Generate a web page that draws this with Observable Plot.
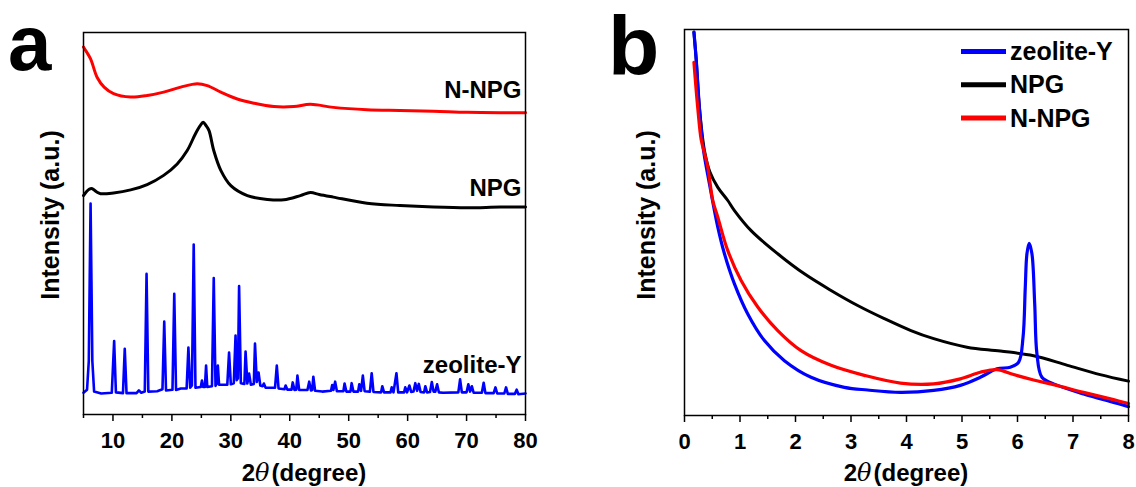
<!DOCTYPE html>
<html><head><meta charset="utf-8">
<script src="https://cdn.jsdelivr.net/npm/d3@7"></script>
<script src="https://cdn.jsdelivr.net/npm/@observablehq/plot@0.6"></script>
<style>
body{margin:0;background:#fff}
#wrap{position:relative;width:1136px;height:487px;overflow:hidden;background:#fff}
#wrap svg{position:absolute;top:0}
</style></head><body><div id="wrap"></div>
<script>
const FONT = "'Liberation Sans', Arial, Helvetica, sans-serif";

// ---------- Panel a : wide-angle XRD (intensity, a.u., curves offset) ----------
const aZeolite = [[5.0,5.7],[5.6,6.5],[5.9,14],[6.05,35],[6.2,55.2],[6.35,35],[6.5,14],[6.8,6.0],
[8,5.5],[9.8,5.7],[10.2,19.2],[10.5,5.8],[11.7,5.6],[12.0,17.2],[12.3,5.6],
[14,5.6],[14.4,6.3],[14.8,5.7],[15.4,6.0],[15.7,36.8],[16.0,6.0],
[17.5,6.1],[18.4,6.6],[18.7,24.3],[19.0,6.3],[20.1,6.5],[20.4,31.6],[20.7,6.4],
[21.5,6.8],[22.5,6.8],[22.8,17.5],[23.1,7.0],[23.4,7.6],[23.7,44.5],[24.0,7.0],
[24.9,7.2],[25.1,8.9],[25.3,7.2],[25.6,7.2],[25.8,12.8],[26.0,7.2],
[26.8,7.4],[27.1,35.7],[27.4,7.5],[27.6,8.0],[27.8,12.8],[28.0,7.8],
[29.4,7.8],[29.7,16.2],[30.0,7.9],[30.5,8.2],[30.8,20.7],[31.0,9.0],[31.2,9.5],[31.4,33.6],[31.7,8.2],
[32.3,8.0],[32.5,16.5],[32.8,8.1],[33.1,10.7],[33.4,7.8],
[33.9,8.0],[34.1,18.6],[34.4,8.5],[34.7,11.0],[35.0,7.6],[35.4,7.4],[35.6,8.1],[35.9,7.0],
[37.5,7.0],[37.8,12.8],[38.1,6.8],[39.1,6.6],[39.3,7.6],[39.6,6.5],
[40.3,6.5],[40.5,8.4],[40.8,6.4],[41.1,6.5],[41.3,10.2],[41.6,6.4],
[43.0,6.4],[43.3,8.6],[43.6,6.3],[43.8,6.4],[44.0,9.9],[44.3,6.2],
[45.5,6.0],[47.0,6.2],[47.2,7.7],[47.4,6.4],[47.7,8.6],[48.0,6.1],
[49.1,6.1],[49.3,8.1],[49.6,6.0],[50.3,6.0],[50.5,8.2],[50.8,6.0],
[51.6,6.0],[51.8,7.9],[52.1,6.2],[52.4,10.2],[52.7,6.1],[53.6,6.0],[53.9,10.8],[54.2,5.9],
[55.5,5.8],[55.7,7.4],[56.0,5.8],[57.1,5.8],[57.3,7.1],[57.6,5.8],[58.1,10.8],[58.4,5.8],
[59.4,5.8],[59.6,7.1],[59.9,5.8],[60.3,7.6],[60.6,5.9],
[61.0,6.0],[61.3,8.2],[61.6,6.2],[61.9,8.0],[62.2,5.9],
[62.8,5.8],[63.0,7.4],[63.3,5.8],[63.8,5.9],[64.1,8.5],[64.4,6.0],[64.7,6.0],[65.0,7.9],[65.3,5.8],
[66,5.7],[68.6,5.8],[68.9,9.2],[69.2,5.8],[70.0,5.8],[70.3,7.9],[70.6,6.0],[70.9,7.4],[71.2,5.7],
[72.6,5.7],[72.9,8.3],[73.2,5.6],[74.6,5.6],[74.9,7.1],[75.2,5.5],
[76.4,5.5],[76.7,7.1],[77.0,5.4],[78.2,5.4],[78.5,6.5],[78.8,5.3],[80,5.5]];

const aNPG = [[5.0,57.3],[5.5,58.3],[6.0,59.0],[6.5,59.1],[7.2,58.3],[7.9,57.8],[10.1,58.0],[13.0,58.8],
[15.8,60.2],[18.6,62.6],[20.9,65.6],[22.6,69.1],[24.0,73.5],[24.8,75.6],[25.3,76.5],[25.8,75.6],
[26.3,74.3],[27.1,69.1],[28.3,63.9],[30.0,59.9],[32.8,57.3],[36.2,56.3],[39.0,56.2],[41.8,57.3],
[43.5,58.1],[45.0,57.6],[47.4,56.9],[53.1,55.3],[58.7,54.7],[64.4,54.3],[70.1,54.1],[75.7,54.3],[80,54.3]];

const aNNPG = [[5.0,96.2],[5.2,95.7],[6.2,93.1],[7.3,88.3],[8.5,85.7],[10.1,84.0],[13.0,83.1],[15.8,83.5],
[18.6,84.4],[21.5,85.7],[24.3,86.6],[26.0,86.1],[28.3,84.4],[31.1,82.6],[33.9,81.5],[37.3,80.6],
[40.7,80.6],[43.5,81.2],[47.4,80.4],[53.1,79.8],[58.7,79.6],[64.4,79.4],[70.1,79.1],[75.7,79.0],[80,79.0]];

const aLabels = ["N-NPG", "NPG", "zeolite-Y"];
const aLabelLevel = [84.8, 59.1, 13.0];
const aTicks = [10, 20, 30, 40, 50, 60, 70, 80];
const aMinorTicks = [5, 15, 25, 35, 45, 55, 65, 75];

// ---------- Panel b : small-angle XRD ----------
const bZeolite = [[0.17,99.3],[0.21,92.4],[0.27,79.5],[0.34,69.0],[0.45,60.0],[0.6,48.8],[0.72,41.9],
[0.9,34.1],[1.14,26.3],[1.44,19.4],[1.8,14.2],[2.28,9.9],[2.88,7.3],[3.3,6.6],[3.89,6.0],[4.49,6.5],
[4.97,7.8],[5.33,9.9],[5.63,12.1],[5.87,12.5],[6.02,13.8],[6.10,20.3],[6.14,33.2],[6.17,41.9],
[6.21,44.6],[6.26,41.9],[6.31,28.9],[6.35,16.0],[6.44,9.9],[6.65,8.2],[7.19,5.6],[7.73,3.4],[8.0,2.3]];

const bNPG = [[0.17,99.3],[0.21,92.4],[0.27,79.5],[0.36,68.6],[0.46,63.0],[0.6,59.1],[0.78,55.7],
[0.9,53.1],[1.2,47.9],[1.68,41.9],[2.16,36.7],[2.64,32.4],[3.12,28.5],[3.6,25.1],[4.08,22.0],
[4.49,19.9],[5.09,17.7],[5.69,16.7],[6.29,15.5],[6.9,13.0],[7.49,10.6],[8.0,8.9]];

const bNNPG = [[0.17,91.5],[0.24,79.5],[0.30,71.5],[0.36,68.0],[0.42,64.3],[0.51,55.7],[0.6,51.4],
[0.78,42.7],[1.02,35.0],[1.32,28.1],[1.68,22.0],[2.1,16.8],[2.64,13.0],[3.24,10.4],[3.89,8.4],
[4.49,8.2],[4.97,9.5],[5.33,11.2],[5.63,11.9],[5.93,10.6],[6.29,9.2],[6.65,8.0],[7.19,6.0],
[7.73,4.1],[8.0,3.1]];

const bTicks = [0, 1, 2, 3, 4, 5, 6, 7, 8];
const bMinorTicks = [0.5, 1.5, 2.5, 3.5, 4.5, 5.5, 6.5, 7.5];

const seriesNames = ["zeolite-Y", "NPG", "N-NPG"];
const seriesColors = ["#0000ff", "#000000", "#ff0000"];

const xy = {x: d => d[0], y: d => d[1], curve: "catmull-rom"};
const baseStyle = {fontFamily: FONT, fontWeight: "bold", color: "#000", background: "transparent", overflow: "visible"};

const plotA = Plot.plot({
  width: 560, height: 487,
  marginLeft: 83, marginRight: 35, marginTop: 32, marginBottom: 73,
  x: {domain: [5, 80]},
  y: {domain: [0, 100], axis: null},
  style: baseStyle,
  marks: [
    Plot.line(aZeolite, {x: d => d[0], y: d => d[1], stroke: seriesColors[0], strokeWidth: 2.6}),
    Plot.line(aNPG, {...xy, stroke: seriesColors[1], strokeWidth: 3}),
    Plot.line(aNNPG, {...xy, stroke: seriesColors[2], strokeWidth: 3}),
    Plot.text(aLabels, {x: () => 80, y: (d, i) => aLabelLevel[i], text: d => d, textAnchor: "end", lineAnchor: "middle", dx: -4, fontSize: 24, fontWeight: "bold", fill: "#000"}),
    Plot.frame({stroke: "#000", strokeWidth: 1.5}),
    Plot.axisX(aTicks, {tickSize: 7, tickPadding: 11, fontSize: 22, fontWeight: "bold", strokeWidth: 1.5, label: null}),
    Plot.axisX(aMinorTicks, {tickSize: 4, tickFormat: () => "", strokeWidth: 1.5, label: null})
  ]
});
plotA.style.left = "0px";

const plotB = Plot.plot({
  width: 576, height: 487,
  marginLeft: 124, marginRight: 8, marginTop: 29, marginBottom: 72,
  x: {domain: [0, 8]},
  y: {domain: [0, 100], axis: null},
  style: baseStyle,
  marks: [
    Plot.line(bNPG, {...xy, stroke: seriesColors[1], strokeWidth: 3}),
    Plot.line(bZeolite, {...xy, stroke: seriesColors[0], strokeWidth: 3.2}),
    Plot.line(bNNPG, {...xy, stroke: seriesColors[2], strokeWidth: 3.2}),
    Plot.frame({stroke: "#000", strokeWidth: 1.5}),
    Plot.axisX(bTicks, {tickSize: 7, tickPadding: 11, fontSize: 22, fontWeight: "bold", strokeWidth: 1.5, label: null}),
    Plot.axisX(bMinorTicks, {tickSize: 4, tickFormat: () => "", strokeWidth: 1.5, label: null})
  ]
});
plotB.style.left = "560px";

const wrap = document.getElementById("wrap");
wrap.appendChild(plotA);
wrap.appendChild(plotB);

// overlay: panel letters, axis titles, legend
const ov = d3.select(wrap).append("svg")
  .attr("width", 1136).attr("height", 487)
  .style("left", "0px").style("pointer-events", "none")
  .style("font-family", FONT).style("font-weight", "bold");

ov.append("text").attr("x", 8).attr("y", 70).attr("font-size", 78).text("a");
ov.append("text").attr("x", 608).attr("y", 75).attr("font-size", 84).text("b");

function xTitle(cx) {
  const t = ov.append("text").attr("x", cx).attr("y", 481).attr("font-size", 24).attr("text-anchor", "middle");
  t.append("tspan").text("2");
  t.append("tspan").attr("font-style", "italic").attr("font-weight", "normal").attr("font-family", "'DejaVu Serif', serif").text("θ");
  t.append("tspan").attr("dx", 2).text("(degree)");
}
xTitle(304);
xTitle(906);

function yTitle(cx, cy) {
  ov.append("text").attr("transform", `translate(${cx},${cy}) rotate(-90)`)
    .attr("font-size", 25).attr("text-anchor", "middle").text("Intensity (a.u.)");
}
yTitle(59, 215);
yTitle(655, 215);

seriesNames.forEach((name, i) => {
  const y = 60 + 33.3 * i;
  ov.append("line").attr("x1", 961).attr("x2", 1006).attr("y1", y - 8.5).attr("y2", y - 8.5)
    .attr("stroke", seriesColors[i]).attr("stroke-width", 5);
  ov.append("text").attr("x", 1010).attr("y", y).attr("font-size", 25).text(name);
});
</script></body></html>
